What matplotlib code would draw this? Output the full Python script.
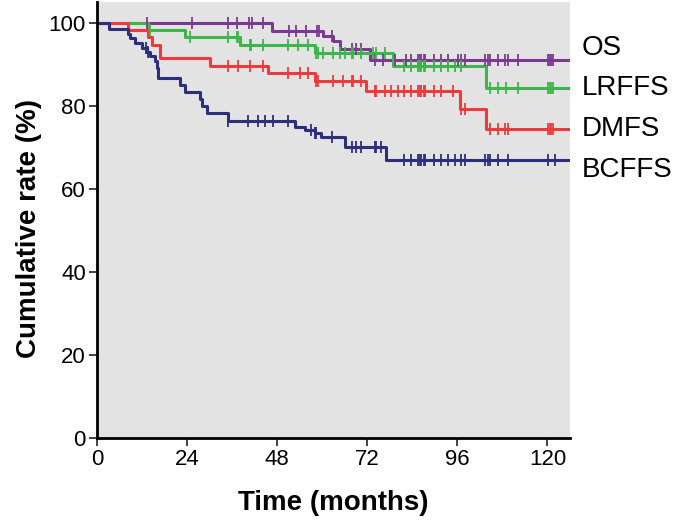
import matplotlib
matplotlib.use('Agg')
import matplotlib.pyplot as plt
import numpy as np

plt.rcParams['font.family'] = ['Liberation Sans', 'DejaVu Sans']

# ---------------- data ----------------
series_names = ['OS', 'LRFFS', 'DMFS', 'BCFFS']

os_times = [0, 46.5, 60.2, 62.9, 64.7, 72.6]
os_surv = [100, 97.9, 96.7, 95.6, 93.6, 91.1]

lrffs_times = [0, 13.7, 23.4, 38.1, 58.0, 78.9, 103.7]
lrffs_surv = [100, 98.2, 96.5, 94.7, 92.8, 89.5, 84.3]

dmfs_times = [0, 8.3, 13.5, 14.7, 16.8, 30.1, 45.6, 58.0, 71.6, 96.6, 103.7]
dmfs_surv = [100, 98.2, 96.5, 94.7, 91.5, 89.7, 87.9, 86.0, 83.6, 79.3, 74.5]

bcffs_times = [0, 3.2, 8.3, 8.8, 10.1, 11.9, 13.2, 14.1, 15.4, 15.9, 16.3,
               22.1, 23.4, 27.4, 28.0, 29.3, 35.0, 52.7, 55.3, 58.0, 59.8,
               66.0, 77.0]
bcffs_surv = [100, 98.6, 97.4, 96.3, 95.1, 93.9, 93.0, 91.9, 90.7, 89.1, 86.6,
              85.0, 83.4, 81.6, 80.0, 78.2, 76.3, 75.0, 74.2, 73.4, 72.4,
              70.2, 66.9]

os_censor = [13.2, 25.2, 34.9, 37.2, 40.5, 41.2, 44.3, 51.1, 53.1, 55.8, 58.5,
             59.2, 62.5, 67.8, 69.1, 70.4, 74.0, 76.2, 79.3, 82.2, 83.7, 85.5,
             86.0, 86.4, 87.0, 87.3, 89.9, 91.7, 93.5, 96.1, 97.0, 97.9, 103.3,
             104.2, 104.6, 106.8, 108.6, 109.5, 112.1, 120.1, 120.6, 121.0, 121.4]
lrffs_censor = [14.0, 24.7, 35.0, 37.2, 37.6, 40.7, 41.1, 44.3, 50.9, 53.5,
                56.2, 58.4, 58.8, 60.2, 62.9, 64.7, 66.0, 67.8, 68.2, 70.4,
                73.5, 74.4, 76.6, 81.9, 83.7, 85.5, 86.0, 86.4, 87.0, 87.3,
                89.9, 91.7, 93.5, 95.3, 97.0, 104.6, 106.8, 109.0, 112.1,
                120.1, 120.6, 121.0, 121.4]
dmfs_censor = [35.0, 37.6, 40.7, 44.3, 50.9, 54.0, 56.2, 58.4, 58.8, 62.9,
               65.6, 67.8, 68.2, 70.4, 74.0, 74.4, 76.6, 78.4, 80.2, 81.9,
               83.7, 85.5, 86.0, 86.4, 87.0, 87.3, 89.9, 91.7, 94.8, 97.0,
               97.9, 104.6, 106.8, 108.6, 109.5, 120.1, 120.6, 121.0, 121.4]
bcffs_censor = [13.0, 13.6, 35.0, 40.3, 43.0, 44.7, 46.9, 50.9, 57.1, 58.0,
                58.4, 62.6, 67.8, 69.1, 70.4, 74.0, 74.4, 75.7, 81.9, 83.7,
                85.5, 86.0, 86.4, 87.0, 87.3, 89.9, 91.7, 93.5, 95.3, 97.0,
                97.9, 103.3, 104.2, 104.6, 106.8, 109.5, 120.1, 121.9]

end_time = 125.8
x_ticks = [0, 24, 48, 72, 96, 120]
y_ticks = [0, 20, 40, 60, 80, 100]

# ---------------- style ----------------
colors = ['#7B3A92', '#3CB64A', '#EE3A3C', '#2D2F7D']
label_y = [94.0, 84.3, 74.3, 64.6]

fig = plt.figure(figsize=(6.8, 5.3), dpi=100)
ax = fig.add_axes([97 / 680, 92 / 530, 473 / 680, 436 / 530])
ax.set_facecolor('#E3E3E3')

all_series = [
    (os_times, os_surv, os_censor),
    (lrffs_times, lrffs_surv, lrffs_censor),
    (dmfs_times, dmfs_surv, dmfs_censor),
    (bcffs_times, bcffs_surv, bcffs_censor),
]

for (t, s, c), col, name, ly in zip(all_series, colors, series_names, label_y):
    tt = list(t) + [end_time]
    ss = list(s) + [s[-1]]
    ax.step(tt, ss, where='post', color=col, lw=2.2, zorder=3)
    idx = np.searchsorted(np.array(t), np.array(c), side='right') - 1
    cy = np.array(s)[idx]
    ax.plot(c, cy, linestyle='none', marker='|', markersize=9,
            markeredgewidth=1.3, color=col, zorder=4)
    ax.text(129.2, ly, name, fontsize=20, color='black', va='center',
            ha='left', clip_on=False)

ax.set_xlim(0, 126)
ax.set_ylim(0, 105)
ax.set_xticks(x_ticks)
ax.set_yticks(y_ticks)
ax.tick_params(axis='both', labelsize=16, length=6, width=1.3,
               direction='out', pad=2, color='#333333')
for sp in ['top', 'right']:
    ax.spines[sp].set_visible(False)
for sp in ['left', 'bottom']:
    ax.spines[sp].set_linewidth(2.0)
    ax.spines[sp].set_color('black')
    ax.spines[sp].set_zorder(5)

ax.set_xlabel('Time (months)', fontsize=20, fontweight='bold', labelpad=14)
ax.set_ylabel('Cumulative rate (%)', fontsize=20, fontweight='bold', labelpad=5)
ax.yaxis.label.set_y(0.48)

fig.savefig('out.png', dpi=100)
